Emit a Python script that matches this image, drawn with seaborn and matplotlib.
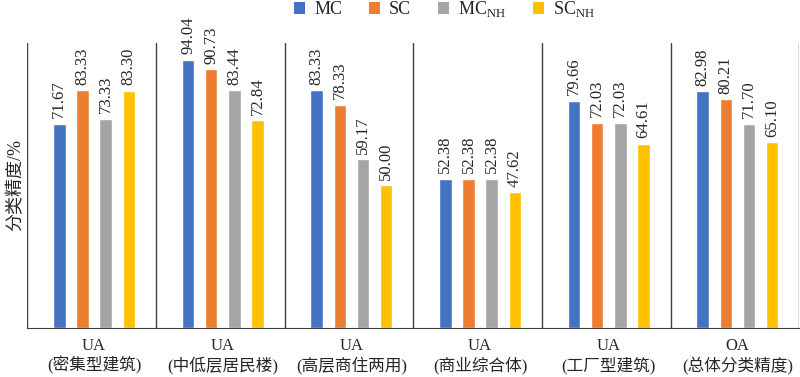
import pandas as pd
import seaborn as sns
import matplotlib.pyplot as plt
from matplotlib.patches import Patch

# 数据
GROUPS = ["UA\n(密集型建筑)", "UA\n(中低层居民楼)", "UA\n(高层商住两用)",
          "UA\n(商业综合体)", "UA\n(工厂型建筑)", "OA\n(总体分类精度)"]
SERIES = ["MC", "SC", "MC_NH", "SC_NH"]
LEGEND_LABELS = ["MC", "SC", r"MC$_{\mathrm{NH}}$", r"SC$_{\mathrm{NH}}$"]
MC = [71.67, 94.04, 83.33, 52.38, 79.66, 82.98]
SC = [83.33, 90.73, 78.33, 52.38, 72.03, 80.21]
MC_NH = [73.33, 83.44, 59.17, 52.38, 72.03, 71.70]
SC_NH = [83.30, 72.84, 50.00, 47.62, 64.61, 65.10]
COLORS = ["#4472C4", "#ED7D31", "#A5A5A5", "#FFC000"]


def plot_bars():
    sns.set_style("white")
    plt.rcParams["font.family"] = ["Liberation Serif", "Noto Sans CJK SC"]
    plt.rcParams["mathtext.fontset"] = "custom"
    plt.rcParams["mathtext.rm"] = "Liberation Serif"

    values = [MC, SC, MC_NH, SC_NH]
    df = pd.DataFrame({
        "group": [g for _ in SERIES for g in GROUPS],
        "series": [s for s in SERIES for _ in GROUPS],
        "value": [v for vals in values for v in vals],
    })

    fig = plt.figure(figsize=(8, 3.77), dpi=100)
    ax = fig.add_axes([0.034, 0.13, 0.965, 0.756])

    sns.barplot(data=df, x="group", y="value", hue="series", order=GROUPS,
                hue_order=SERIES, palette=COLORS, width=0.72, gap=0.46,
                saturation=1, legend=False, ax=ax)

    for cont in ax.containers:
        ax.bar_label(cont, fmt="%.2f", rotation=90, padding=4, fontsize=12)

    ax.set_ylim(0, 100)
    ax.set_xlim(-0.52, len(GROUPS) - 0.52)
    for i in range(len(GROUPS) + 1):
        ax.axvline(i - 0.52, color="#404040", lw=1)

    for side in ["top", "left", "right"]:
        ax.spines[side].set_visible(False)
    ax.spines["bottom"].set_color("#404040")

    ax.set_yticks([])
    ax.set_xlabel("")
    ax.set_ylabel("分类精度/%", fontsize=13, labelpad=2)
    ax.tick_params(axis="x", length=0, pad=7, labelsize=12)
    for lbl in ax.get_xticklabels():
        lbl.set_linespacing(1.2)

    handles = [Patch(facecolor=c, edgecolor="none") for c in COLORS]
    fig.legend(handles, LEGEND_LABELS, loc="upper center", ncol=4,
               bbox_to_anchor=(0.556, 1.045), frameon=False, fontsize=13,
               handlelength=0.6, handleheight=0.6, columnspacing=1.5,
               handletextpad=0.5)

    plt.savefig("out.png", dpi=100)
    plt.close()


if __name__ == "__main__":
    plot_bars()
